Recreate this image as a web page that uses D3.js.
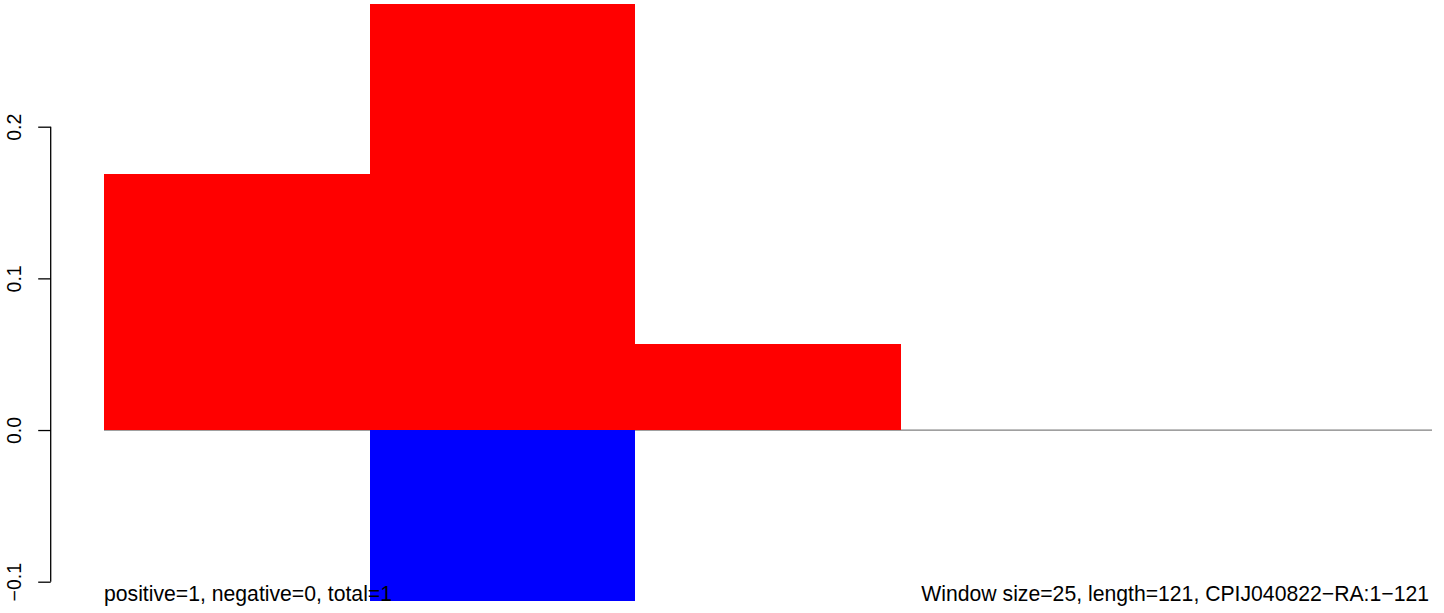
<!DOCTYPE html>
<html>
<head>
<meta charset="utf-8">
<script src="https://cdn.jsdelivr.net/npm/d3@7"></script>
<style>
  html, body { margin: 0; padding: 0; background: #fff; }
  svg { display: block; }
  text { font-family: "Liberation Sans", Arial, Helvetica, sans-serif; }
</style>
</head>
<body>
<svg id="chart" width="1444" height="613"></svg>
<script>
// ---- data ----
const windowStarts = [1, 26, 51, 76, 101];
const windowSize = 25;
const seqLength = 121;
const positiveValues = [0.169, 0.281, 0.057, 0, 0];
const negativeValues = [0, -0.113, 0, 0, 0];
const yTicks = [-0.1, 0.0, 0.1, 0.2];
const yTickLabels = ["\u22120.1", "0.0", "0.1", "0.2"];
const leftNote = "positive=1, negative=0, total=1";
const rightNote = "Window size=25, length=121, CPIJ040822\u2212RA:1\u2212121";

// ---- layout ----
const svg = d3.select("#chart");
const x = d3.scaleLinear().domain([1, 126]).range([104, 1432]);
const y = d3.scaleLinear().domain([-0.1, 0.2]).range([581.7, 126.7]);

// zero line
svg.append("line")
  .attr("x1", x(1)).attr("x2", x(126))
  .attr("y1", y(0)).attr("y2", y(0))
  .attr("stroke", "#808080").attr("stroke-width", 1.2);

// positive bars
svg.selectAll("rect.pos").data(windowStarts.map((s, i) => ({s, v: positiveValues[i]})).filter(d => d.v !== 0))
  .enter().append("rect").attr("class", "pos")
  .attr("x", d => x(d.s)).attr("width", d => x(d.s + windowSize) - x(d.s))
  .attr("y", d => y(d.v)).attr("height", d => y(0) - y(d.v))
  .attr("shape-rendering", "crispEdges")
  .attr("fill", "#ff0000");

// negative bars
svg.selectAll("rect.neg").data(windowStarts.map((s, i) => ({s, v: negativeValues[i]})).filter(d => d.v !== 0))
  .enter().append("rect").attr("class", "neg")
  .attr("x", d => x(d.s)).attr("width", d => x(d.s + windowSize) - x(d.s))
  .attr("y", y(0)).attr("height", d => y(d.v) - y(0))
  .attr("shape-rendering", "crispEdges")
  .attr("fill", "#0000ff");

// y axis
const axis = d3.axisLeft(y).tickValues(yTicks).tickSize(12.5)
  .tickFormat((d, i) => yTickLabels[i]);
const g = svg.append("g").attr("transform", "translate(50.7,0)").call(axis);
g.select(".domain").attr("stroke", "#000").attr("stroke-width", 1.3)
  .attr("d", `M-0.0,${y(-0.1)}V${y(0.2)}`);
g.selectAll(".tick line").attr("stroke", "#000").attr("stroke-width", 1.3);
g.selectAll(".tick text")
  .attr("x", null).attr("dy", null)
  .attr("transform", "translate(-29.5,0) rotate(-90)")
  .attr("text-anchor", "middle")
  .attr("font-size", 19.5)
  .attr("font-family", "'Liberation Sans', Arial, sans-serif")
  .attr("fill", "#000");

// notes
svg.append("text").attr("x", 104).attr("y", 601)
  .attr("font-size", 21.2).attr("fill", "#000").text(leftNote);
svg.append("text").attr("x", 1429).attr("y", 601)
  .attr("text-anchor", "end")
  .attr("font-size", 21.2).attr("fill", "#000").text(rightNote);
</script>
</body>
</html>
